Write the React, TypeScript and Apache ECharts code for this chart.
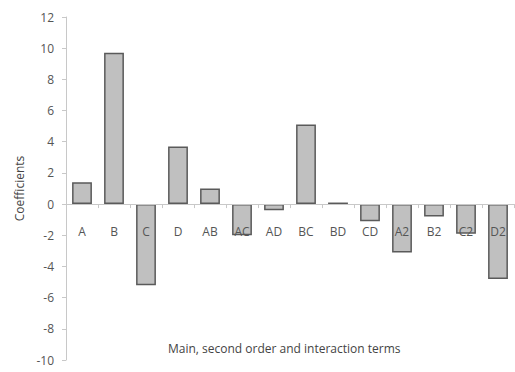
import React, { useEffect, useRef } from "react";
import * as echarts from "echarts";

const terms = ["A", "B", "C", "D", "AB", "AC", "AD", "BC", "BD", "CD", "A2", "B2", "C2", "D2"];
const coefficients = [1.4, 9.7, -5.2, 3.7, 1.0, -2.0, -0.4, 5.1, 0.1, -1.1, -3.1, -0.8, -1.9, -4.8];

const yMin = -10;
const yMax = 12;
const yStep = 2;

const xTitle = "Main, second order and interaction terms";
const yTitle = "Coefficients";

const gridTop = 17;
const gridBottom = 12;
const chartHeight = 372;

export default function App() {
  const ref = useRef<HTMLDivElement>(null);

  useEffect(() => {
    if (!ref.current) return;
    const chart = echarts.init(ref.current, null, { renderer: "svg" });
    const font = "'Open Sans', 'Liberation Sans', sans-serif";
    // the category axis sits on the zero line, so lift it from the grid's bottom edge
    const plotHeight = chartHeight - gridTop - gridBottom;
    const zeroFromBottom = (plotHeight * (0 - yMin)) / (yMax - yMin);
    chart.setOption({
      animation: false,
      backgroundColor: "#ffffff",
      grid: {
        left: 66,
        right: 1,
        top: gridTop,
        bottom: gridBottom,
        containLabel: false,
        outerBoundsMode: "none",
      },
      xAxis: {
        type: "category",
        data: terms,
        offset: -zeroFromBottom,
        axisLine: { onZero: false, lineStyle: { color: "#c8c8c8", width: 1 } },
        axisTick: { show: true, alignWithLabel: false, length: 4, lineStyle: { color: "#c8c8c8" } },
        axisLabel: { color: "#555555", fontSize: 12, fontFamily: font, margin: 21 },
        splitLine: { show: false },
        z: 5,
      },
      yAxis: {
        type: "value",
        min: yMin,
        max: yMax,
        interval: yStep,
        name: yTitle,
        nameLocation: "middle",
        nameGap: 40,
        nameTextStyle: { color: "#444444", fontSize: 12, fontFamily: font },
        axisLine: { show: true, lineStyle: { color: "#c8c8c8", width: 1 } },
        axisTick: { show: true, length: 4, lineStyle: { color: "#c8c8c8" } },
        axisLabel: { color: "#555555", fontSize: 12, fontFamily: font, margin: 12 },
        splitLine: { show: false },
      },
      graphic: [
        {
          type: "text",
          left: 168,
          top: 342,
          style: { text: xTitle, fill: "#444444", fontSize: 12, fontFamily: font },
        },
      ],
      series: [
        {
          type: "bar",
          data: coefficients,
          barWidth: "62%",
          itemStyle: { color: "#c0c0c0", borderColor: "#5a5a5a", borderWidth: 1.5 },
          z: 2,
        },
      ],
    });
    return () => chart.dispose();
  }, []);

  return (
    <div
      ref={ref}
      style={{ position: "fixed", left: 0, top: 0, width: 515, height: 372, background: "#fff" }}
    />
  );
}
